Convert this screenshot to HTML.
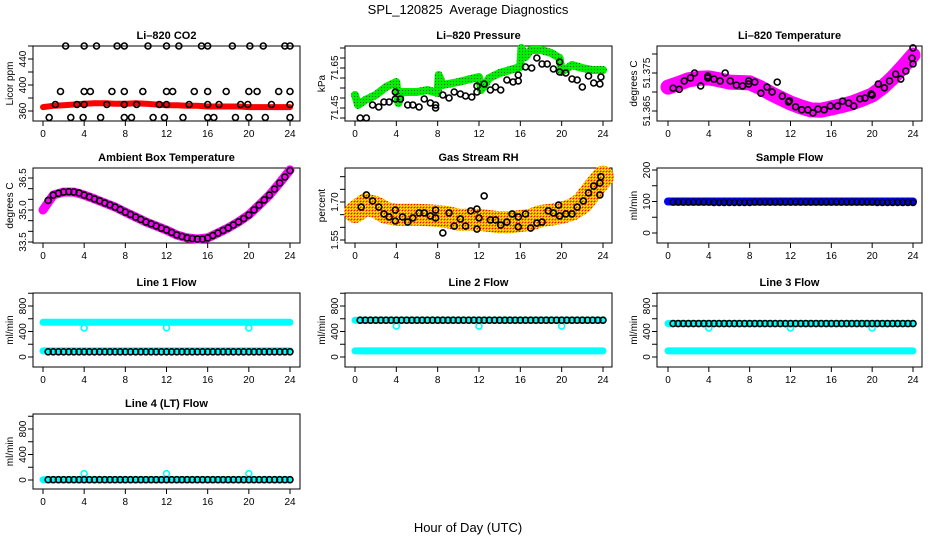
<!DOCTYPE html>
<html><head><meta charset="utf-8"><style>
html,body{margin:0;padding:0;background:#fff;}
svg{display:block;font-family:"Liberation Sans",Arial,sans-serif;}
</style></head><body>
<svg id="chart" width="936" height="540" viewBox="0 0 936 540" xmlns="http://www.w3.org/2000/svg">
<defs>
<pattern id="rhpat" width="3" height="3" patternUnits="userSpaceOnUse"><rect width="3" height="3" fill="#ff9900"/><rect width="1" height="1" fill="#ff0000"/><rect x="1" y="1" width="1" height="1" fill="#ffff00"/><rect x="2" y="2" width="1" height="1" fill="#ffff00"/></pattern>
<pattern id="grpat" width="3" height="3" patternUnits="userSpaceOnUse"><rect width="3" height="3" fill="#00ee00"/><rect width="1" height="1" fill="#006600"/></pattern>
</defs>
<text x="468" y="14" text-anchor="middle" font-size="13">SPL_120825&#160; Average Diagnostics</text>
<text x="468" y="532" text-anchor="middle" font-size="13">Hour of Day (UTC)</text>
</svg>
<script>
// ---- data ----
const xTicks=[0,4,8,12,16,20,24];
const co2RedHours=[0,1,2,3,4,5,6,7,8,9,10,11,12,13,14,15,16,17,18,19,20,21,22,23,24];
const co2RedVals=[366,368,369,370,371,372,372,371,371,372,371,370,369,369,368,368,367,367,367,367,366,366,366,366,366];
const co2BlackHours=[2.2,4,5.2,7.2,7.9,10.2,12,13.2,15.4,16,18.4,20.1,21.4,23.5,24,1.7,4,4.6,6.7,7.9,9.7,12,12.6,14.7,16,17.8,20,20.8,22.9,24,1.2,3.3,4,6.2,7.9,9.1,11.3,12,14.2,16,17.1,19.2,19.9,22.2,24,0.6,2.7,3.9,5.6,7.9,8.6,10.7,11.8,13.6,16,16.6,18.7,20,21.6,24];
const co2BlackVals=[460,460,460,460,460,460,460,460,460,460,460,460,460,460,460,390,390,390,390,390,390,390,390,390,390,390,390,390,390,390,370,370,370,370,370,370,370,370,370,370,370,370,370,370,370,350,350,350,350,350,350,350,350,350,350,350,350,350,350,350];
const presGreenHours=[0,0.3,1,2,3,4,4.2,4.5,6,7,8,8.1,8.5,10,12,12.2,13,14,15,16,16.1,16.5,17,18,19,19.8,20,21,22,23,24];
const presGreenVals=[71.515,71.465,71.49,71.515,71.555,71.58,71.475,71.53,71.53,71.54,71.525,71.615,71.565,71.58,71.605,71.54,71.60,71.625,71.64,71.655,71.75,71.705,71.74,71.74,71.725,71.70,71.63,71.665,71.65,71.64,71.64];
const presBlackHours=[0.5,1.1,1.7,2.3,2.8,3.3,3.9,3.9,4.4,5.1,5.6,6.2,6.7,7.3,7.8,7.8,8.5,9.1,9.6,10.2,10.7,11.3,11.8,11.8,12.5,13.1,13.6,14.1,14.7,15.3,15.8,15.8,16.5,17.1,17.6,18.1,18.6,19.2,19.8,19.8,20.4,21,21.5,22,22.6,23.1,23.7,23.8];
const presBlackVals=[71.40,71.40,71.465,71.455,71.48,71.48,71.495,71.53,71.495,71.465,71.465,71.455,71.495,71.475,71.465,71.45,71.515,71.50,71.53,71.52,71.51,71.505,71.53,71.56,71.57,71.54,71.555,71.54,71.59,71.58,71.585,71.615,71.655,71.65,71.70,71.67,71.67,71.645,71.68,71.63,71.625,71.595,71.59,71.555,71.61,71.575,71.57,71.605];
const tempBandHours=[0,1,2,3,4,5,6,7,8,9,10,11,12,13,14,15,16,17,18,19,20,21,22,23,24];
const tempBandVals=[51.3713,51.3722,51.3732,51.3736,51.3737,51.3732,51.3726,51.3725,51.3724,51.3712,51.3697,51.3684,51.3671,51.3661,51.3653,51.3652,51.3658,51.3664,51.3671,51.3681,51.3692,51.3712,51.3737,51.3766,51.3797];
const tempBlackHours=[0.5,1.1,1.6,2.2,2.6,3.2,3.9,3.9,4.5,5.1,5.6,6.1,6.7,7.3,7.9,7.9,8.5,9.1,9.7,10.2,10.7,11.2,11.8,11.9,12.5,13.1,13.7,14.2,14.7,15.3,15.9,16.6,17.1,17.7,18.2,18.8,19.3,19.9,20,20.6,21.2,21.7,22.3,22.8,23.3,23.9,24,24];
const tempBlackVals=[51.371,51.3707,51.3729,51.3737,51.375,51.3716,51.3737,51.3742,51.3734,51.3729,51.375,51.3729,51.3718,51.3716,51.3729,51.3721,51.3726,51.3697,51.3713,51.370,51.3726,51.3689,51.3674,51.3677,51.3661,51.3653,51.3653,51.3645,51.3655,51.3653,51.3663,51.3663,51.3676,51.3671,51.3663,51.3682,51.3684,51.3695,51.3692,51.3721,51.3711,51.3729,51.3747,51.3734,51.3755,51.3789,51.3816,51.3774];
const ambBandHours=[0,1,2,3,4,5,6,7,8,9,10,11,12,13,14,15,16,17,18,19,20,21,22,23,24];
const ambBandVals=[35.0,35.7,35.84,35.84,35.7,35.52,35.33,35.14,34.9,34.67,34.44,34.25,34.06,33.83,33.69,33.64,33.69,33.92,34.16,34.44,34.77,35.23,35.7,36.27,36.88];
const ambBlackHours=[0.5,1,1.5,2,2.5,3,3.5,4,4.5,5,5.5,6,6.5,7,7.5,8,8.5,9,9.5,10,10.5,11,11.5,12,12.5,13,13.5,14,14.5,15,15.5,16,16.5,17,17.5,18,18.5,19,19.5,20,20.5,21,21.5,22,22.5,23,23.5,24];
const ambBlackVals=[35.45,35.7,35.78,35.84,35.86,35.84,35.8,35.7,35.62,35.52,35.43,35.33,35.24,35.14,35.02,34.9,34.79,34.67,34.56,34.44,34.35,34.25,34.15,34.06,33.95,33.83,33.76,33.69,33.66,33.64,33.64,33.69,33.8,33.92,34.04,34.16,34.3,34.44,34.6,34.77,35.0,35.23,35.47,35.7,35.98,36.27,36.55,36.85];
const rhBandHours=[0,1,2,3,4,5,6,7,8,9,10,11,12,13,14,15,16,17,18,19,20,21,22,23,24];
const rhBandVals=[1.66,1.69,1.68,1.657,1.65,1.65,1.65,1.648,1.645,1.64,1.63,1.63,1.63,1.625,1.62,1.62,1.625,1.63,1.645,1.65,1.657,1.67,1.696,1.75,1.80];
const rhBlackHours=[0.6,1.1,1.7,2.3,2.8,3.3,3.9,3.9,4.6,5.1,5.6,6.2,6.7,7.3,7.8,7.8,8.5,9.1,9.6,10.2,10.7,11.2,11.8,11.8,12,12.5,13.1,13.6,14.1,14.7,15.2,15.8,15.8,16.5,17,17.6,18.1,18.7,19.2,19.7,19.8,20.4,21,21.5,22.1,22.6,23.1,23.7,23.7,23.8];
const rhBlackVals=[1.68,1.728,1.704,1.68,1.653,1.641,1.625,1.668,1.641,1.621,1.637,1.657,1.657,1.645,1.637,1.668,1.578,1.657,1.605,1.633,1.605,1.665,1.672,1.593,1.637,1.724,1.629,1.629,1.609,1.621,1.653,1.641,1.602,1.653,1.597,1.617,1.621,1.665,1.657,1.688,1.645,1.653,1.653,1.68,1.704,1.736,1.763,1.775,1.728,1.80];
const halfHours=[0.5,1,1.5,2,2.5,3,3.5,4,4.5,5,5.5,6,6.5,7,7.5,8,8.5,9,9.5,10,10.5,11,11.5,12,12.5,13,13.5,14,14.5,15,15.5,16,16.5,17,17.5,18,18.5,19,19.5,20,20.5,21,21.5,22,22.5,23,23.5,24];
const bandHours=[0,24];
const sampleBlueVals=[100,100];
const sampleBlackVals=[98,98,98,98,98,98,98,98,97,97,97,97,97,97,97,97,98,98,98,98,98,98,98,98,98,98,98,98,98,98,98,98,98,98,98,98,98,98,98,98,97,97,97,97,97,97,97,97];
const l1CyanTop=[545,545];
const l1CyanLow=[95,95];
const l1BlackVals=[82,82,82,82,82,82,82,82,82,82,82,82,82,82,82,82,82,82,82,82,82,82,82,82,82,82,82,82,82,82,82,82,82,82,82,82,82,82,82,82,82,82,82,82,82,82,82,82];
const l2CyanTop=[578,578];
const l2CyanLow=[95,95];
const l2BlackVals=[578,578,578,578,578,578,578,578,578,578,578,578,578,578,578,578,578,578,578,578,578,578,578,578,578,578,578,578,578,578,578,578,578,578,578,578,578,578,578,578,578,578,578,578,578,578,578,578];
const l3CyanTop=[525,525];
const l3CyanLow=[95,95];
const l3BlackVals=[525,525,525,525,525,525,525,525,525,525,525,525,525,525,525,525,525,525,525,525,525,525,525,525,525,525,525,525,525,525,525,525,525,525,525,525,525,525,525,525,525,525,525,525,525,525,525,525];
const l4CyanVals=[5,5];
const l4BlackVals=[5,5,5,5,5,5,5,5,5,5,5,5,5,5,5,5,5,5,5,5,5,5,5,5,5,5,5,5,5,5,5,5,5,5,5,5,5,5,5,5,5,5,5,5,5,5,5,5];
const dipHours=[4,12,20];
const l1DipVals=[455,460,455];
const l2DipVals=[485,485,485];
const l3DipVals=[455,455,455];
const l4DipVals=[100,100,100];

// ---- drawing ----
const NS='http://www.w3.org/2000/svg';
const svg=document.getElementById('chart');
function mk(tag,attrs,parent){const e=document.createElementNS(NS,tag);for(const k in attrs)e.setAttribute(k,attrs[k]);(parent||svg).appendChild(e);return e;}
const cols=[{l:33,r:300,x0:43,x24:290},{l:345,r:612,x0:355,x24:603},{l:657,r:922,x0:668,x24:913}];
const rows=[{t:46,b:121},{t:168,b:243},{t:293,b:367},{t:414,b:489}];

function panel(name,title,ylab,ci,ri,v1,y1,v2,y2,ticks,labels){
  const c=cols[ci],r=rows[ri];
  const g=mk('g',{});
  
  
  const x=h=>c.x0+h*(c.x24-c.x0)/24;
  const y=v=>y1+(v-v1)*(y2-y1)/(v2-v1);
  const box=mk('rect',{x:c.l,y:r.t,width:c.r-c.l,height:r.b-r.t,fill:'none',stroke:'#000','stroke-width':1},g);
  
  
  const tt=mk('text',{x:(c.l+c.r)/2,y:r.t-7,'text-anchor':'middle','font-size':11,'font-weight':'bold'},g);
  tt.textContent=title;
  
  
  const yl=mk('text',{x:c.l-20,y:(r.t+r.b)/2,'text-anchor':'middle','font-size':10,transform:`rotate(-90 ${c.l-20} ${(r.t+r.b)/2})`},g);
  yl.textContent=ylab;
  
  
  ticks.forEach(v=>{mk('line',{x1:c.l-5,x2:c.l,y1:y(v),y2:y(v),stroke:'#000'},g);});
  labels.forEach(s=>{
    const v=Number(s);
    const t=mk('text',{x:c.l-7,y:y(v),'text-anchor':'middle','font-size':10,transform:`rotate(-90 ${c.l-7} ${y(v)})`},g);
    t.textContent=String(s);
    
    
  });
  xTicks.forEach(h=>{
    mk('line',{x1:x(h),x2:x(h),y1:r.b,y2:r.b+5,stroke:'#000'},g);
    const t=mk('text',{x:x(h),y:r.b+16,'text-anchor':'middle','font-size':10},g);
    t.textContent=String(h);
    
    
  });
  const clip=mk('g',{},g);
  return {x,y,g:clip};
}
function band(p,hs,vs,color,w,name){
  const pts=hs.map((h,i)=>p.x(h).toFixed(1)+','+p.y(vs[i]).toFixed(1)).join(' ');
  const pl=mk('polyline',{points:pts,fill:'none',stroke:color,'stroke-width':w,'stroke-linejoin':'round','stroke-linecap':'round'},p.g);
  
  
}
function dots(p,hs,vs,color,name,r){
  hs.forEach((h,i)=>{
    const c=mk('circle',{cx:p.x(h),cy:p.y(vs[i]),r:r||3,fill:'none',stroke:color,'stroke-width':1.6},p.g);
    
    
  });
}

let p;
p=panel('co2','Li\u2013820 CO2','Licor ppm',0,0,360,111,440,59,[360,380,400,420,440,460],['360','400','440']);
band(p,co2RedHours,co2RedVals,'#ff0000',6,'co2-red-series');
dots(p,co2BlackHours,co2BlackVals,'#000','co2-black-point');

p=panel('pressure','Li\u2013820 Pressure','kPa',1,0,71.40,118,71.75,48,[71.40,71.45,71.50,71.55,71.60,71.65,71.70,71.75],['71.45','71.65']);
band(p,presGreenHours,presGreenVals,'url(#grpat)',8,'pressure-green-series');
dots(p,presBlackHours,presBlackVals,'#000','pressure-black-point');

p=panel('temperature','Li\u2013820 Temperature','degrees C',2,0,51.365,111,51.380,54,[51.365,51.370,51.375,51.380],['51.365','51.375']);
band(p,tempBandHours,tempBandVals,'#ff00ff',15,'temperature-magenta-series');
dots(p,tempBlackHours,tempBlackVals,'#000','temperature-black-point');

p=panel('ambient','Ambient Box Temperature','degrees C',0,1,33.5,242,36.5,178,[33.5,34.0,34.5,35.0,35.5,36.0,36.5],['33.5','35.0','36.5']);
band(p,ambBandHours,ambBandVals,'#ff00ff',9,'ambient-magenta-series');
dots(p,ambBlackHours,ambBlackVals,'#000','ambient-black-point');

p=panel('rh','Gas Stream RH','percent',1,1,1.55,240,1.70,202,[1.55,1.60,1.65,1.70,1.75,1.80],['1.55','1.70']);
band(p,rhBandHours,rhBandVals,'url(#rhpat)',22,'rh-orange-series');
dots(p,rhBlackHours,rhBlackVals,'#000','rh-black-point');

p=panel('sample-flow','Sample Flow','ml/min',2,1,0,233,200,170,[0,50,100,150,200],['0','100','200']);
band(p,bandHours,sampleBlueVals,'#0000ff',8,'sample-blue-series');
dots(p,halfHours,sampleBlackVals,'#000','sample-black-point');

const flowTicks=[0,200,400,600,800,1000],flowLabels=['0','400','800'];
p=panel('line1','Line 1 Flow','ml/min',0,2,0,357,800,306,flowTicks,flowLabels);
band(p,bandHours,l1CyanTop,'#00ffff',7,'line1-cyan-high-series');
band(p,bandHours,l1CyanLow,'#00ffff',7,'line1-cyan-low-series');
dots(p,dipHours,l1DipVals,'#00ffff','line1-cyan-dip');
dots(p,halfHours,l1BlackVals,'#000','line1-black-point');

p=panel('line2','Line 2 Flow','ml/min',1,2,0,357,800,306,flowTicks,flowLabels);
band(p,bandHours,l2CyanTop,'#00ffff',7,'line2-cyan-high-series');
band(p,bandHours,l2CyanLow,'#00ffff',7,'line2-cyan-low-series');
dots(p,dipHours,l2DipVals,'#00ffff','line2-cyan-dip');
dots(p,halfHours,l2BlackVals,'#000','line2-black-point');

p=panel('line3','Line 3 Flow','ml/min',2,2,0,357,800,306,flowTicks,flowLabels);
band(p,bandHours,l3CyanTop,'#00ffff',7,'line3-cyan-high-series');
band(p,bandHours,l3CyanLow,'#00ffff',7,'line3-cyan-low-series');
dots(p,dipHours,l3DipVals,'#00ffff','line3-cyan-dip');
dots(p,halfHours,l3BlackVals,'#000','line3-black-point');

p=panel('line4','Line 4 (LT) Flow','ml/min',0,3,0,480,800,429,flowTicks,flowLabels);
band(p,bandHours,l4CyanVals,'#00ffff',7,'line4-cyan-series');
dots(p,dipHours,l4DipVals,'#00ffff','line4-cyan-dip');
dots(p,halfHours,l4BlackVals,'#000','line4-black-point');
</script>
</body></html>
